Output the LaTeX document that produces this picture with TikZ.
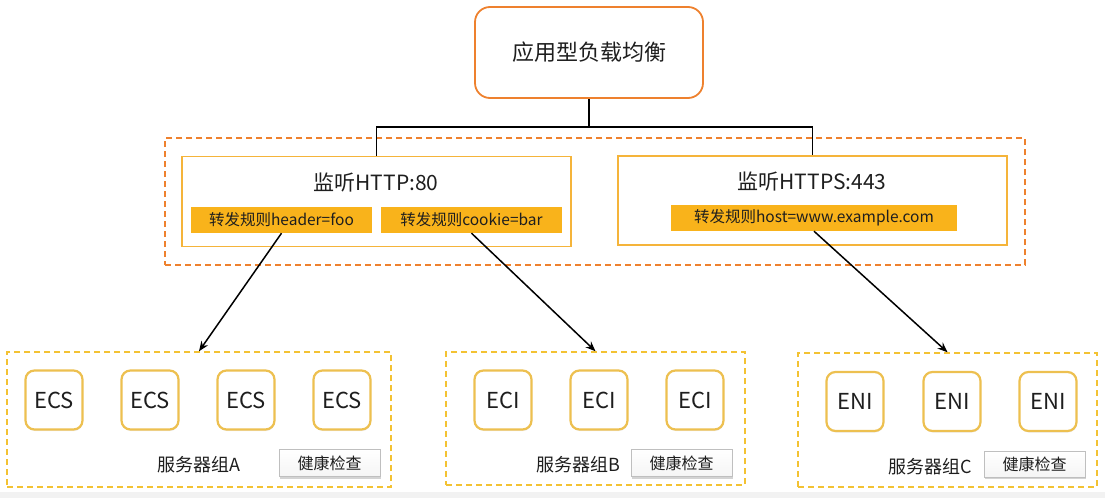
\documentclass[tikz,border=0pt]{standalone}
\usepackage{fontspec}
\setmainfont{Noto Sans CJK SC}
\usepackage{tikz}
\usetikzlibrary{arrows.meta,shadows}
\definecolor{lborange}{HTML}{EE812E}
\definecolor{lsnline}{HTML}{F5B43A}
\definecolor{rulefill}{HTML}{F9B31B}
\definecolor{grpline}{HTML}{F3C233}
\definecolor{srvline}{HTML}{EDC050}
\definecolor{txt}{HTML}{1E1E1E}

\begin{document}
\begin{tikzpicture}[
  x=1pt,y=-1pt,
  every node/.style={text=txt},
  lbbox/.style={draw=lborange,line width=1.8pt,rounded corners=15pt,fill=white,
    minimum width=228pt,minimum height=91pt,font=\fontsize{22}{26}\selectfont},
  lsngrp/.style={draw=lborange,line width=1.5pt,dash pattern=on 6pt off 4pt,
    minimum width=860pt,minimum height=127pt},
  lsnbox/.style={draw=lsnline,line width=1.3pt,minimum width=389pt,minimum height=90pt},
  lsntxt/.style={font=\fontsize{21}{24}\selectfont},
  rule/.style={fill=rulefill,minimum height=26pt,inner sep=0pt,font=\fontsize{15.5}{18}\selectfont},
  grp/.style={draw=grpline,line width=1.5pt,dash pattern=on 6pt off 4pt,minimum width=299pt,minimum height=134pt},
  srv/.style={draw=srvline,line width=2.2pt,rounded corners=9pt,fill=white,
    minimum width=57pt,minimum height=59pt,inner sep=0pt,font=\fontsize{22}{25}\selectfont,
    drop shadow={opacity=0.15,shadow xshift=0.5pt,shadow yshift=-1.5pt}},
  grplbl/.style={font=\fontsize{18}{21}\selectfont},
  hc/.style={draw=black!25,line width=0.6pt,top color=white,bottom color=black!4,
    minimum width=101pt,minimum height=27pt,inner sep=0pt,font=\fontsize{16}{19}\selectfont,
    drop shadow={opacity=0.35,shadow xshift=1pt,shadow yshift=-2pt}},
  link/.style={line width=1.5pt,black},
  arrow/.style={-{Stealth[length=10pt,width=8pt]},line width=1.5pt,black}
]
  \useasboundingbox (0,0) rectangle (1105,498);
  \fill[black!5] (0,492) rectangle (1105,498);

  % load balancer and listeners
  \node[lbbox] (lb) at (589,52.5) {应用型负载均衡};
  \node[lsngrp] (lsn) at (595,201.5) {};
  \node[lsnbox] (l80) at (376.5,201.5) {};
  \node[lsnbox,minimum height=89pt] (l443) at (812.5,200.5) {};
  \node[lsntxt] (t80) at (376,183) {监听HTTP:80};
  \node[lsntxt] (t443) at (812,182) {监听HTTPS:443};
  \node[rule,minimum width=181pt] (r1) at (281.5,220) {转发规则header=foo};
  \node[rule,minimum width=181pt] (r2) at (471.5,220) {转发规则cookie=bar};
  \node[rule,minimum width=286pt] (r3) at (814,218) {转发规则host=www.example.com};

  \coordinate (split) at (lb.south |- 0,127);
  \draw[link] (lb.south) -- (split);
  \draw[link] (l80.north) |- (split) -| (l443.north);

  % server groups
  \node[grp,minimum width=384pt,minimum height=135pt] (ga) at (199,419.5) {};
  \node[grp,minimum height=133pt] (gb) at (595.5,418.5) {};
  \node[grp] (gc) at (947.5,420) {};

  \foreach \x [count=\i] in {54,150,246,342}
    \node[srv] (ecs\i) at (\x,400) {ECS};
  \foreach \x [count=\i] in {503,599,695}
    \node[srv] (eci\i) at (\x,400) {ECI};
  \foreach \x [count=\i] in {855,952,1048}
    \node[srv] (eni\i) at (\x,401.5) {ENI};

  \node[grplbl] (na) at (199,465) {服务器组A};
  \node[grplbl] (nb) at (578,465) {服务器组B};
  \node[grplbl] (nc) at (930,467) {服务器组C};
  \node[hc] (hca) at (329.5,463) {健康检查};
  \node[hc] (hcb) at (681.5,463) {健康检查};
  \node[hc,minimum height=26pt] (hcc) at (1034.5,464) {健康检查};

  \draw[arrow] (r1.south) -- (ga.north);
  \draw[arrow] (r2.south) -- (gb.north);
  \draw[arrow] (r3.south) -- (gc.north);
\end{tikzpicture}
\end{document}
